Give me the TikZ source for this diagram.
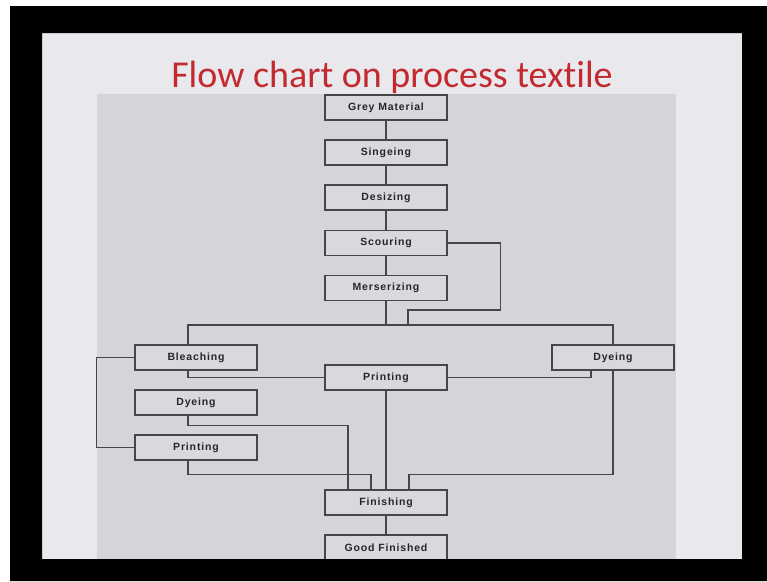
\documentclass[tikz,border=0pt]{standalone}
\usepackage{fontspec}
\usepackage{tikz}
\newfontfamily\titlefont[Ligatures=NoCommon]{Carlito}
\newfontfamily\boxfont[LetterSpace=8]{Liberation Sans}
\definecolor{slide}{HTML}{E9E9ED}
\definecolor{panel}{HTML}{D5D5D9}
\definecolor{boxfill}{HTML}{D9D9DD}
\definecolor{edge}{HTML}{45454A}
\definecolor{titlered}{HTML}{C22A2F}
\tikzset{
  stage/.style={draw=edge, line width=1.3pt, fill=boxfill, minimum width=122pt, minimum height=25pt, inner sep=0pt, text=black!85, font=\boxfont\bfseries\fontsize{10.5}{12}\selectfont},
  trunk/.style={edge, line width=1.8pt},
  branch/.style={edge, line width=1.1pt}
}

\begin{document}
\begin{tikzpicture}[x=1pt,y=-1pt]
            \useasboundingbox (0,0) rectangle (767,581);
            \fill[white] (0,0) rectangle (767,581);
            \fill[slide] (42,33) rectangle (742,559);
            \fill[panel] (97,94) rectangle (676,559);

            \node[text=titlered, font=\titlefont\fontsize{38}{40}\selectfont, anchor=base] (title) at (392,87) {Flow chart on process textile};

            \node[stage] (grey) at (386,107.5) {Grey Material};
            \node[stage] (singe) at (386,152.5) {Singeing};
            \node[stage] (desize) at (386,197.5) {Desizing};
            \node[stage] (scour) at (386,243) {Scouring};
            \node[stage] (merser) at (386,288) {Merserizing};
            \node[stage] (bleach) at (196,357.5) {Bleaching};
            \node[stage] (dyeL) at (196,402.5) {Dyeing};
            \node[stage] (printL) at (196,447.5) {Printing};
            \node[stage] (printC) at (386,377.5) {Printing};
            \node[stage] (dyeR) at (613,357.5) {Dyeing};
            \node[stage] (finish) at (386,502.5) {Finishing};
            \node[stage] (good) at (386,547.5) {Good Finished};
            \coordinate (bus) at (386,325);

            \draw[trunk] (grey)--(singe);
            \draw[trunk] (singe)--(desize);
            \draw[trunk] (desize)--(scour);
            \draw[trunk] (scour)--(merser);
            \draw[trunk] (merser.south)--(bus);
            \draw[trunk] (printC.south)--(finish.north);
            \draw[trunk] (finish)--(good);

            \draw[edge, line width=1.4pt] ([xshift=-8pt]bleach.north) |- (bus) -| (dyeR.north);
            \draw[branch] (scour.east) -| ++(53,67) -| ([xshift=22pt]bus);
            \draw[branch] (bleach.west) -- ++(-38,0) |- (printL.west);
            \draw[branch] ([xshift=-8pt]bleach.south) |- (printC.west);
            \draw[branch] (printC.east) -| ([xshift=-22pt]dyeR.south);
            \draw[branch] ([xshift=-8pt]dyeL.south) -- ++(0,10) -| ([xshift=-38pt]finish.north);
            \draw[branch] ([xshift=-8pt]printL.south) -- ++(0,14) -| ([xshift=-15pt]finish.north);
            \draw[branch] (dyeR.south) -- ++(0,104) -| ([xshift=23pt]finish.north);

            \fill[black, even odd rule] (10,6) rectangle (767,581) (42,33) rectangle (742,559);

        \end{tikzpicture}
\end{document}
